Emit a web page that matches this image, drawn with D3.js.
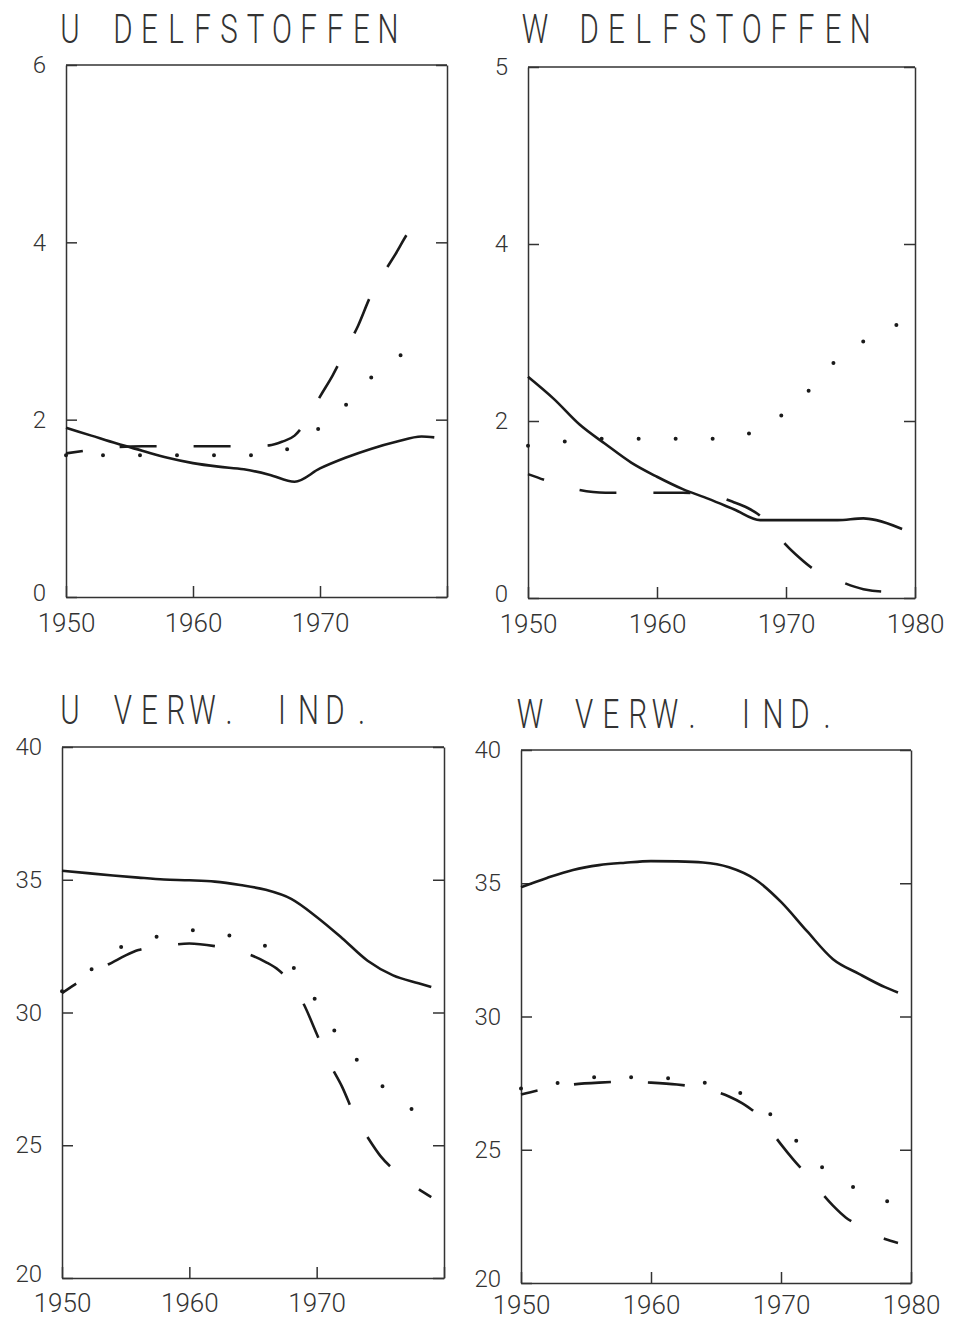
<!DOCTYPE html>
<html>
<head>
<meta charset="utf-8">
<script src="https://cdn.jsdelivr.net/npm/d3@7"></script>
<style>
body{margin:0;background:#fff;}
svg{display:block;background:#fff;}
.title, .axis text{font-family:Roboto, "Liberation Sans", sans-serif;font-weight:300;fill:#333;}
</style>
</head>
<body>
<svg id="chart" width="958" height="1324"></svg>
<script>
// --- U DELFSTOFFEN
var p1SolidYears = [1950,1952,1954,1956,1958,1960,1962,1964,1966,1968,1970,1972,1974,1976,1978,1979];
var p1SolidValues = [1.91,1.82,1.73,1.65,1.57,1.51,1.47,1.44,1.38,1.30,1.45,1.57,1.67,1.75,1.81,1.80];
var p1DashYears = [1950,1952,1954,1956,1958,1960,1962,1964,1966,1967,1968,1969,1970,1971,1972,1973,1974,1975,1976,1977,1978,1979];
var p1DashValues = [1.62,1.66,1.69,1.70,1.70,1.70,1.70,1.70,1.71,1.75,1.82,2.00,2.26,2.50,2.78,3.06,3.40,3.65,3.88,4.12,4.25,4.30];
var p1DotYears = [1950,1953,1956,1959,1962,1965,1967,1968,1970,1972,1974,1976,1978,1979];
var p1DotValues = [1.60,1.60,1.60,1.60,1.60,1.60,1.64,1.72,1.91,2.16,2.47,2.70,2.82,2.87];

// --- W DELFSTOFFEN
var p2SolidYears = [1950,1952,1954,1956,1958,1960,1962,1964,1966,1968,1970,1972,1974,1976,1977,1979];
var p2SolidValues = [2.50,2.25,1.96,1.74,1.53,1.37,1.23,1.12,1.00,0.88,0.88,0.88,0.88,0.90,0.88,0.78];
var p2DashYears = [1950,1952,1954,1956,1958,1960,1962,1964,1966,1967,1968,1969,1970,1971,1972,1974,1976,1978,1979];
var p2DashValues = [1.40,1.30,1.22,1.19,1.19,1.19,1.19,1.17,1.08,1.02,0.93,0.78,0.60,0.46,0.34,0.20,0.10,0.07,0.07];
var p2DotYears = [1950,1953,1956,1959,1962,1965,1967,1968,1970,1972,1974,1976,1978,1979];
var p2DotValues = [1.72,1.77,1.80,1.80,1.80,1.80,1.85,1.93,2.10,2.38,2.70,2.90,3.05,3.11];

// --- U VERW. IND.
var p3SolidYears = [1950,1952,1954,1956,1958,1960,1962,1964,1966,1968,1970,1972,1974,1976,1978,1979];
var p3SolidValues = [35.34,35.25,35.16,35.08,35.01,34.98,34.93,34.80,34.62,34.28,33.60,32.80,31.95,31.40,31.10,30.96];
var p3DashYears = [1950,1951,1952,1953,1954,1955,1956,1958,1960,1962,1964,1966,1967,1968,1969,1970,1971,1972,1973,1974,1975,1976,1977,1978,1979];
var p3DashValues = [30.73,31.05,31.35,31.65,31.90,32.15,32.35,32.50,32.60,32.50,32.30,31.90,31.60,31.10,30.30,29.20,28.10,27.20,26.10,25.30,24.60,24.10,23.70,23.35,23.05];
var p3DotYears = [1950,1952,1954,1956,1958,1960,1962,1964,1966,1967,1968,1969,1970,1971,1972,1973,1974,1975,1976,1977,1978,1979];
var p3DotValues = [30.8,31.5,32.3,32.7,32.9,33.1,33.0,32.8,32.5,32.2,31.8,31.1,30.4,29.6,28.9,28.3,27.8,27.3,26.85,26.5,26.2,25.84];

// --- W VERW. IND.
var p4SolidYears = [1950,1952,1954,1956,1958,1960,1962,1964,1966,1968,1970,1972,1974,1976,1978,1979];
var p4SolidValues = [34.85,35.20,35.50,35.68,35.77,35.83,35.82,35.78,35.60,35.15,34.30,33.20,32.15,31.60,31.10,30.90];
var p4DashYears = [1950,1952,1954,1956,1958,1960,1962,1964,1966,1967,1968,1969,1970,1971,1972,1973,1974,1975,1976,1977,1978,1979];
var p4DashValues = [27.07,27.30,27.45,27.52,27.55,27.52,27.45,27.30,27.00,26.75,26.40,25.85,25.20,24.60,24.05,23.45,22.90,22.45,22.15,21.85,21.65,21.50];
var p4DotYears = [1950,1953,1956,1959,1962,1965,1967,1968,1970,1972,1974,1976,1978,1979];
var p4DotValues = [27.30,27.52,27.73,27.71,27.66,27.42,27.10,26.80,25.95,24.90,24.00,23.50,23.10,22.89];

// ticks and labels
var xTicks = [1950,1960,1970,1980];
var xLabelsShort = ["1950","1960","1970",""];
var xLabelsLong = ["1950","1960","1970","1980"];
var yTicksDelf = [0,2,4,6];
var yLabelsUDelf = ["0","2","4","6"];
var yLabelsWDelf = ["0","2","4","5"];
var yTicksVerw = [20,25,30,35,40];
var yLabelsVerw = ["20","25","30","35","40"];

var svg = d3.select("#chart");

function drawPanel(p){
    var x = d3.scaleLinear().domain([1950,1980]).range([p.left,p.right]);
    var y = d3.scaleLinear().domain(p.yDomain).range([p.bottom,p.top]);
    var g = svg.append("g");

    // title, monospaced plotter cells
    var scaleX = 0.72;
    g.append("text")
        .attr("class","title")
        .attr("transform","scale("+scaleX+",1)")
        .attr("x", p.title.split("").map(function(c,i){return ((p.titleX + i*p.titleCell)/scaleX).toFixed(1);}).join(" "))
        .attr("y", p.titleY)
        .attr("text-anchor","middle")
        .attr("font-size",41)
        .text(p.title);

    // top line of the frame
    g.append("line")
        .attr("x1",p.left).attr("x2",p.right)
        .attr("y1",p.top).attr("y2",p.top)
        .attr("stroke","#333").attr("stroke-width",1.5);

    var left = g.append("g").attr("class","axis")
        .attr("transform","translate("+p.left+",0)")
        .call(d3.axisLeft(y).tickValues(p.yTicks).tickSize(-11).tickSizeOuter(0).tickPadding(20)
            .tickFormat(function(d,i){return p.yLabels[i];}));
    var right = g.append("g").attr("class","axis")
        .attr("transform","translate("+p.right+",0)")
        .call(d3.axisRight(y).tickValues(p.yTicks).tickSize(-11).tickSizeOuter(0).tickFormat(""));
    var bottom = g.append("g").attr("class","axis")
        .attr("transform","translate(0,"+p.bottom+")")
        .call(d3.axisBottom(x).tickValues(xTicks).tickSize(-11).tickSizeOuter(0).tickPadding(p.xPad)
            .tickFormat(function(d,i){return p.xLabels[i];}));

    [left,right,bottom].forEach(function(a){
        a.attr("font-family",null).attr("font-size",null);
        a.selectAll(".domain, .tick line").attr("stroke","#333").attr("stroke-width",1.5);
    });
    left.selectAll("text").attr("font-size",24);
    // lowest label sits just above the year labels
    left.selectAll("text").filter(function(d,i){return i == 0;}).attr("y",-4);
    bottom.selectAll("text").attr("font-size",26);

    var line = d3.line()
        .x(function(d){return x(d[0]);})
        .y(function(d){return y(d[1]);})
        .curve(d3.curveMonotoneX);

    p.series.forEach(function(s){
        var path = g.append("path")
            .datum(d3.zip(s.years,s.values))
            .attr("d",line)
            .attr("fill","none")
            .attr("stroke","#1a1a1a");
        if(s.kind == "solid"){
            path.attr("stroke-width",2.6);
        }else if(s.kind == "dash"){
            path.attr("stroke-width",2.6)
                .attr("stroke-dasharray","37 37")
                .attr("stroke-dashoffset",20);
        }else{
            path.attr("stroke-width",4)
                .attr("stroke-linecap","round")
                .attr("stroke-dasharray","0 37");
        }
    });
}

drawPanel({
    title:"U DELFSTOFFEN", titleX:70, titleCell:26.5, titleY:43,
    left:66, right:447, top:65, bottom:597, xPad:17,
    yDomain:[0,6], yTicks:yTicksDelf, yLabels:yLabelsUDelf, xLabels:xLabelsShort,
    series:[
        {kind:"solid", years:p1SolidYears, values:p1SolidValues},
        {kind:"dash", years:p1DashYears, values:p1DashValues},
        {kind:"dot", years:p1DotYears, values:p1DotValues}
    ]
});

drawPanel({
    title:"W DELFSTOFFEN", titleX:535, titleCell:27.1, titleY:43,
    left:528, right:915, top:67, bottom:598, xPad:17,
    yDomain:[0,6], yTicks:yTicksDelf, yLabels:yLabelsWDelf, xLabels:xLabelsLong,
    series:[
        {kind:"solid", years:p2SolidYears, values:p2SolidValues},
        {kind:"dash", years:p2DashYears, values:p2DashValues},
        {kind:"dot", years:p2DotYears, values:p2DotValues}
    ]
});

drawPanel({
    title:"U VERW. IND.", titleX:70, titleCell:26.5, titleY:724,
    left:62, right:444, top:747, bottom:1278, xPad:16,
    yDomain:[20,40], yTicks:yTicksVerw, yLabels:yLabelsVerw, xLabels:xLabelsShort,
    series:[
        {kind:"solid", years:p3SolidYears, values:p3SolidValues},
        {kind:"dash", years:p3DashYears, values:p3DashValues},
        {kind:"dot", years:p3DotYears, values:p3DotValues}
    ]
});

drawPanel({
    title:"W VERW. IND.", titleX:530, titleCell:27, titleY:728,
    left:521, right:911, top:750, bottom:1283, xPad:13,
    yDomain:[20,40], yTicks:yTicksVerw, yLabels:yLabelsVerw, xLabels:xLabelsLong,
    series:[
        {kind:"solid", years:p4SolidYears, values:p4SolidValues},
        {kind:"dash", years:p4DashYears, values:p4DashValues},
        {kind:"dot", years:p4DotYears, values:p4DotValues}
    ]
});
</script>
</body>
</html>
